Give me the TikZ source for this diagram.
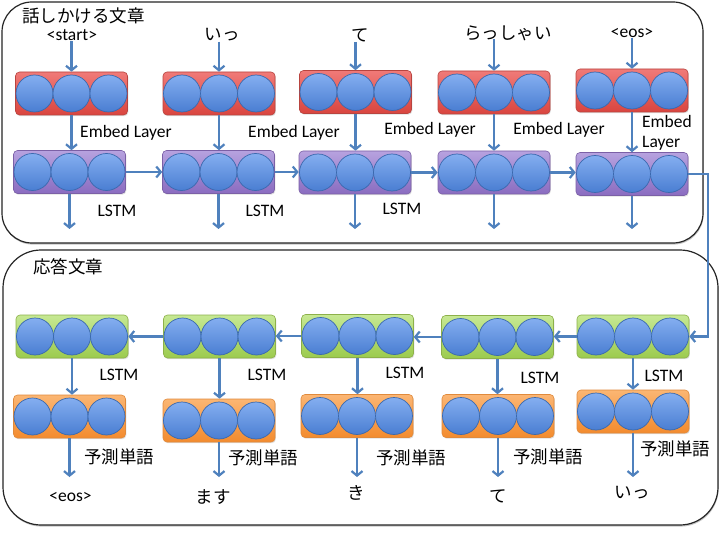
\documentclass[tikz,border=0pt]{standalone}
\usepackage{fontspec}
\setmainfont{Carlito}
\newfontfamily\jp{Noto Sans CJK JP}
\usetikzlibrary{arrows.meta,calc,shadows}
\definecolor{arrowblue}{HTML}{4F81BD}
\definecolor{embedtop}{HTML}{F07A78}
\definecolor{embedbot}{HTML}{D9453F}
\definecolor{embedborder}{HTML}{B8443F}
\definecolor{lstmtop}{HTML}{B7A2DF}
\definecolor{lstmbot}{HTML}{8A6CC0}
\definecolor{lstmborder}{HTML}{7B60A6}
\definecolor{gtop}{HTML}{C6E893}
\definecolor{gbot}{HTML}{9CCB4E}
\definecolor{gborder}{HTML}{8DB04A}
\definecolor{otop}{HTML}{FBB673}
\definecolor{obot}{HTML}{F38B2E}
\definecolor{oborder}{HTML}{E08A3C}
\definecolor{celltop}{HTML}{84AEF0}
\definecolor{cellbot}{HTML}{4A7ED2}
\definecolor{cellborder}{HTML}{3A69AE}
\tikzset{
  panel/.style={draw=black!85, line width=1.2pt, fill=white, inner sep=0pt,
    drop shadow={shadow xshift=0.6pt, shadow yshift=-1.6pt, opacity=0.45}},
  layer/.style={rounded corners=4pt, minimum width=112pt, minimum height=43pt, inner sep=0pt,
    line width=0.6pt, drop shadow={shadow xshift=0.8pt, shadow yshift=-1.2pt, opacity=0.25}},
  embed/.style={layer, draw=embedborder, top color=embedtop, bottom color=embedbot},
  lstmE/.style={layer, draw=lstmborder, top color=lstmtop, bottom color=lstmbot},
  lstmD/.style={layer, draw=gborder, top color=gtop, bottom color=gbot},
  pred/.style={layer, draw=oborder, top color=otop, bottom color=obot},
  cell/.style={circle, minimum size=37pt, inner sep=0pt, draw=cellborder, line width=0.7pt,
    top color=celltop, bottom color=cellbot},
  arr/.style={draw=arrowblue, line width=2.2pt, -{Straight Barb[length=4.5pt,width=11pt]}},
  lbl/.style={inner sep=0pt, font=\fontsize{17.5}{21}\selectfont},
  jlbl/.style={inner sep=0pt, font=\fontsize{17.5}{21}\selectfont\jp},
}
\newcommand\mklayer[4]{%
  \node[#4] (#1) at (#2,#3) {};
  \node[cell] (#1a) at ($(#1.center)+(-37,0)$) {};
  \node[cell] (#1b) at (#1.center) {};
  \node[cell] (#1c) at ($(#1.center)+(37,0)$) {};
}
\begin{document}
\begin{tikzpicture}[x=1pt,y=-1pt]
\useasboundingbox (0,0) rectangle (720,540);
\fill[white] (0,0) rectangle (720,540);

% panels
\node[panel, rounded corners=30pt, minimum width=701pt, minimum height=241pt] (P1) at (352.5,122.5) {};
\node[panel, rounded corners=38pt, minimum width=715pt, minimum height=275pt] (P2) at (360.5,387.5) {};
\node[jlbl] (t1) at (83.5,16) {話しかける文章};
\node[jlbl] (t2) at (68,267) {応答文章};

% encoder layers
\mklayer{E1}{71.5}{93.5}{embed}
\mklayer{E2}{219}{93.5}{embed}
\mklayer{E3}{355.5}{92}{embed}
\mklayer{E4}{494}{92.5}{embed}
\mklayer{E5}{632}{90.5}{embed}
\mklayer{L1}{69.5}{172}{lstmE}
\mklayer{L2}{218.5}{172}{lstmE}
\mklayer{L3}{355}{172.5}{lstmE}
\mklayer{L4}{494}{172.5}{lstmE}
\mklayer{L5}{632}{174}{lstmE}

% decoder layers
\mklayer{G1}{72}{336.5}{lstmD}
\mklayer{G2}{219.5}{336.5}{lstmD}
\mklayer{G3}{357.5}{336}{lstmD}
\mklayer{G4}{497.5}{337}{lstmD}
\mklayer{G5}{633}{336.5}{lstmD}
\mklayer{O1}{69.5}{416.5}{pred}
\mklayer{O2}{219}{420.5}{pred}
\mklayer{O3}{357}{416}{pred}
\mklayer{O4}{498}{416}{pred}
\mklayer{O5}{633}{411.5}{pred}

% input words
\node[lbl] (in1) at (72,35) {<start>};
\node[jlbl] (in2) at (222,35) {いっ};
\node[jlbl] (in3) at (360,35) {て};
\node[jlbl] (in4) at (508,33) {らっしゃい};
\node[lbl] (in5) at (632,33) {<eos>};

% embed labels
\node[lbl] (el1) at (126,133) {Embed Layer};
\node[lbl] (el2) at (294,133) {Embed Layer};
\node[lbl] (el3) at (430,130) {Embed Layer};
\node[lbl] (el4) at (559,130) {Embed Layer};
\node[lbl, align=left, anchor=west, font=\fontsize{17.5}{20.5}\selectfont] (el5) at (642,133) {Embed\\Layer};

% LSTM labels
\node[lbl] (ll1) at (117,211) {LSTM};
\node[lbl] (ll2) at (265,211) {LSTM};
\node[lbl] (ll3) at (402,209) {LSTM};
\node[lbl] (gl1) at (119,375) {LSTM};
\node[lbl] (gl2) at (267,375) {LSTM};
\node[lbl] (gl3) at (405,373) {LSTM};
\node[lbl] (gl4) at (540,378) {LSTM};
\node[lbl] (gl5) at (664,376) {LSTM};

% prediction labels
\node[jlbl] (pl1) at (119,457) {予測単語};
\node[jlbl] (pl2) at (263,458) {予測単語};
\node[jlbl] (pl3) at (411,458) {予測単語};
\node[jlbl] (pl4) at (548,457) {予測単語};
\node[jlbl] (pl5) at (675,449) {予測単語};

% output words
\node[lbl] (out1) at (70.5,497) {<eos>};
\node[jlbl] (out2) at (213,497) {ます};
\node[jlbl] (out3) at (356,493) {き};
\node[jlbl] (out4) at (498,496) {て};
\node[jlbl] (out5) at (632,493) {いっ};

% helper coordinates
\coordinate (topend) at (0,229);
\coordinate (botend) at (0,477);
\coordinate (cr) at (708,0);

% input arrows
\foreach \i in {1,2,3,5} {
  \draw[arr] (E\i.north |- in\i.south) -- (E\i.north);
}
\draw[arr] ($(E4.north |- in4.south)+(0,-2)$) -- (E4.north);

% embed -> lstm
\foreach \i in {1,...,5} {
  \draw[arr] (E\i.south) -- (E\i.south |- L\i.north);
  \draw[arr] (L\i.south) -- (L\i.south |- topend);
}
% recurrent encoder
\foreach \i/\j in {1/2,2/3,3/4,4/5} {
  \draw[arr] (L\i.east) -- (L\i.east -| L\j.west);
}
% encoder -> decoder
\draw[arr] (L5.east) -- (L5.east -| cr) |- (G5.east);
% recurrent decoder
\foreach \i/\j in {5/4,4/3,3/2,2/1} {
  \draw[arr] (G\i.west) -- (G\i.west -| G\j.east);
}
% decoder -> prediction -> output
\foreach \i in {1,...,5} {
  \draw[arr] (G\i.south) -- (G\i.south |- O\i.north);
  \draw[arr] (O\i.south) -- (O\i.south |- botend);
}
\end{tikzpicture}
\end{document}
